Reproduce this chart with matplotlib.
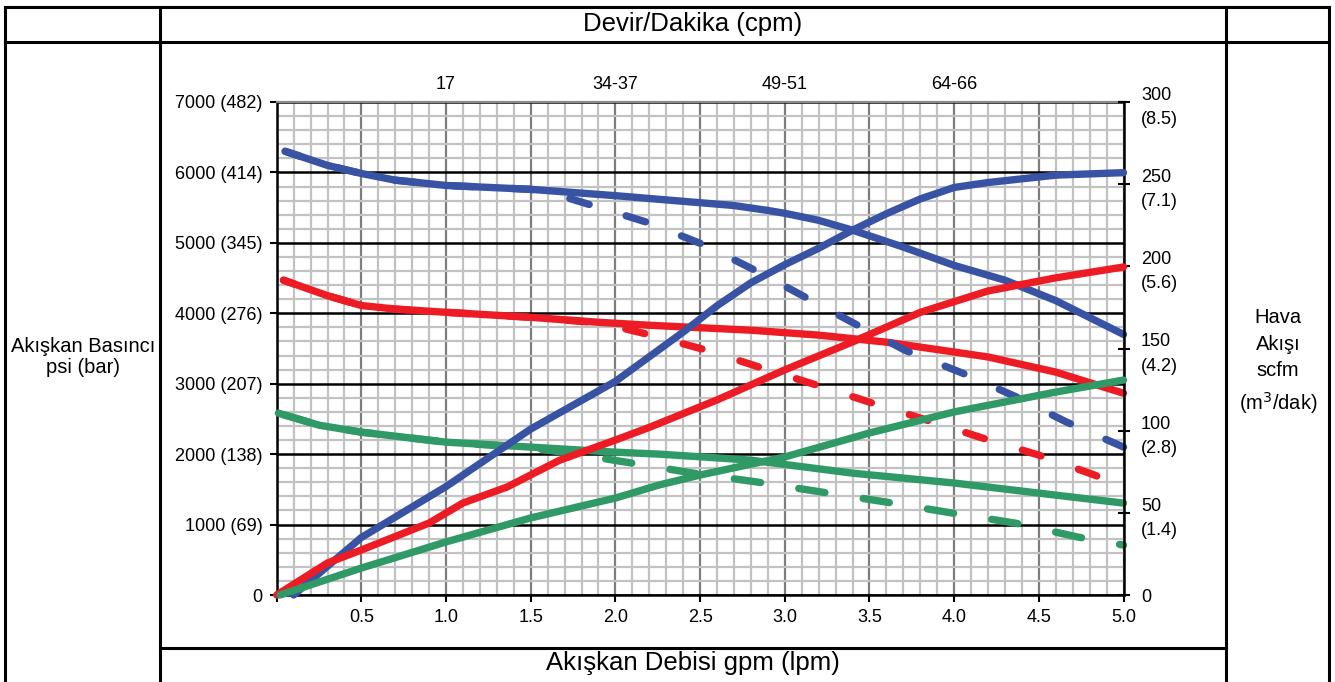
import matplotlib
matplotlib.use("Agg")
import matplotlib.pyplot as plt
from matplotlib.lines import Line2D
import numpy as np

plt.rcParams['font.family'] = ['Liberation Sans', 'DejaVu Sans']

W, H = 1335, 682

# ---------------- data ----------------
x_ticks = [0, 0.5, 1.0, 1.5, 2.0, 2.5, 3.0, 3.5, 4.0, 4.5, 5.0]
x_tick_labels = ['', '0.5', '1.0', '1.5', '2.0', '2.5', '3.0', '3.5', '4.0', '4.5', '5.0']
psi_ticks = [0, 1000, 2000, 3000, 4000, 5000, 6000, 7000]
psi_labels = ['0', '1000 (69)', '2000 (138)', '3000 (207)', '4000 (276)',
              '5000 (345)', '6000 (414)', '7000 (482)']
scfm_ticks = [0, 50, 100, 150, 200, 250, 300]
scfm_labels = ['0', '50\n(1.4)', '100\n(2.8)', '150\n(4.2)', '200\n(5.6)',
               '250\n(7.1)', '300\n(8.5)']
cpm_pos = [1.0, 2.0, 3.0, 4.0]
cpm_labels = ['17', '34-37', '49-51', '64-66']

# blue
blue_p_x = [0.05, 0.3, 0.5, 0.7, 1.0, 1.5, 2.0, 2.2, 2.5, 2.7, 2.9, 3.0, 3.2, 3.4, 3.7, 4.0, 4.3, 4.6, 5.0]
blue_p = [6300, 6100, 5985, 5890, 5815, 5760, 5670, 5630, 5570, 5530, 5460, 5420, 5320, 5180, 4940, 4680, 4470, 4180, 3700]
blue_pd_x = [0.05, 0.3, 0.5, 0.7, 1.0, 1.5, 1.71, 2.19, 2.53, 2.85, 3.12, 3.43, 3.71, 4.05, 4.36, 4.66, 5.0]
blue_pd = [6300, 6100, 5985, 5890, 5815, 5760, 5645, 5290, 4965, 4580, 4230, 3830, 3475, 3150, 2820, 2460, 2100]
blue_a_x = [0.1, 0.5, 1.0, 1.5, 2.0, 2.2, 2.4, 2.6, 2.8, 3.0, 3.2, 3.4, 3.6, 3.8, 4.0, 4.2, 4.6, 5.0]
blue_a = [0, 35, 66, 101, 130, 145, 160, 176, 190, 201, 211, 222, 232, 241, 248, 251, 255.5, 257]

# red
red_p_x = [0.04, 0.3, 0.5, 0.7, 1.0, 1.5, 1.9, 2.2, 2.8, 3.2, 3.6, 4.0, 4.2, 4.6, 5.0]
red_p = [4470, 4250, 4110, 4060, 4014, 3943, 3872, 3830, 3760, 3690, 3590, 3450, 3380, 3165, 2865]
red_pd_x = [0.04, 0.3, 0.5, 0.7, 1.0, 1.5, 1.85, 2.04, 2.19, 2.54, 2.87, 3.19, 3.52, 3.84, 4.17, 4.5, 4.83, 5.0]
red_pd = [4470, 4250, 4110, 4060, 4014, 3943, 3875, 3790, 3702, 3475, 3220, 2979, 2723, 2482, 2227, 1986, 1702, 1532]
red_a_x = [0.0, 0.3, 0.5, 0.9, 1.1, 1.36, 1.67, 2.0, 2.2, 2.6, 3.0, 3.4, 3.8, 4.2, 4.6, 5.0]
red_a = [0, 19.5, 27.4, 43.8, 56, 65.7, 82, 94.3, 102, 118.7, 137, 154, 172, 185, 193, 199.6]

# green
green_p_x = [0.01, 0.25, 0.5, 1.0, 1.5, 2.0, 2.26, 2.8, 3.4, 4.0, 4.6, 5.0]
green_p = [2582, 2411, 2312, 2170, 2100, 2028, 2000, 1915, 1730, 1590, 1418, 1305]
green_pd_x = [0.01, 0.25, 0.5, 1.0, 1.5, 1.73, 2.1, 2.46, 2.84, 3.22, 3.6, 3.99, 4.36, 4.73, 5.0]
green_pd = [2582, 2411, 2312, 2170, 2090, 2014, 1872, 1730, 1603, 1461, 1319, 1163, 1021, 823, 709]
green_a_x = [0.02, 0.5, 1.0, 1.5, 2.0, 2.26, 2.5, 3.0, 3.5, 4.0, 4.6, 5.0]
green_a = [0, 16.4, 32.3, 46.9, 59, 67, 73, 84, 98.6, 111.4, 123.5, 130.8]

BLUE = '#3953A4'
RED = '#ED1C24'
GREEN = '#2F9A66'

# ---------------- figure ----------------
fig = plt.figure(figsize=(W / 100, H / 100), dpi=100)
fig.patch.set_facecolor('white')


def fx(px):
    return px / W


def fy(py):
    return 1 - py / H


def hline(x0, x1, y, lw=2.2):
    fig.add_artist(Line2D([fx(x0), fx(x1)], [fy(y), fy(y)], color='black', lw=lw,
                          transform=fig.transFigure, solid_capstyle='projecting'))


def vline(x, y0, y1, lw=2.2):
    fig.add_artist(Line2D([fx(x), fx(x)], [fy(y0), fy(y1)], color='black', lw=lw,
                          transform=fig.transFigure, solid_capstyle='projecting'))


# table frame
hline(5, 1329, 7)
hline(5, 1329, 42)
hline(160, 1226, 648)
vline(5, 7, 682)
vline(160, 7, 682)
vline(1226, 7, 682)
vline(1329, 7, 682)

fig.text(fx(693), fy(24), 'Devir/Dakika (cpm)', ha='center', va='center', fontsize=18.5)
fig.text(fx(693), fy(663), 'Akışkan Debisi gpm (lpm)', ha='center', va='center', fontsize=18.5)
fig.text(fx(83), fy(357), 'Akışkan Basıncı\npsi (bar)', ha='center', va='center',
         fontsize=14.5, linespacing=1.1)
fig.text(fx(1278), fy(362), 'Hava\nAkışı\nscfm\n(m$^3$/dak)', ha='center', va='center',
         fontsize=14.5, linespacing=1.5)

# axes
x0p, x1p, y0p, y1p = 276.7, 1123.5, 595, 102
ax = fig.add_axes([fx(x0p), fy(y0p), (x1p - x0p) / W, (y0p - y1p) / H])
ax.set_xlim(0, 5)
ax.set_ylim(0, 7000)
ax.set_facecolor('white')

ax.set_xticks(x_ticks)
ax.set_xticklabels(x_tick_labels, fontsize=13)
ax.set_xticks(np.arange(0, 5.001, 0.1), minor=True)
ax.set_yticks(psi_ticks)
ax.set_yticklabels(psi_labels, fontsize=13)
ax.set_yticks(np.arange(0, 7001, 200), minor=True)
ax.tick_params(which='minor', length=0)
ax.tick_params(which='major', axis='x', direction='out', length=5, width=1.5, pad=5)
ax.tick_params(which='major', axis='y', direction='out', length=5, width=1.5, pad=5)

ax.grid(which='minor', axis='both', color='#c2c2c2', lw=1.6, zorder=0)
ax.grid(which='major', axis='x', color='#7d7d7d', lw=1.6, zorder=0)
ax.grid(which='major', axis='y', color='black', lw=1.8, zorder=0)
ax.set_axisbelow(True)

for s in ['left', 'bottom']:
    ax.spines[s].set_color('black')
    ax.spines[s].set_linewidth(1.8)
ax.spines['top'].set_color('#8a8a8a')
ax.spines['top'].set_linewidth(1.6)
ax.spines['right'].set_visible(False)

for i, lab in enumerate(cpm_labels):
    ax.text(cpm_pos[i], 1.035, lab, transform=ax.get_xaxis_transform(),
            ha='center', va='center', fontsize=13)

LW = 5.3
LWPX = LW * 100 / 72


def dash_offset(axis, xs, ys, x_start, on, off):
    """Offset (in lw units) so that a visible dash begins at x_start."""
    pts = axis.transData.transform(np.column_stack([xs, ys]))
    seg = np.hypot(np.diff(pts[:, 0]), np.diff(pts[:, 1]))
    cum = np.concatenate([[0], np.cumsum(seg)])
    s0 = np.interp(x_start, xs, cum) + LWPX / 2
    s0_lw = s0 * 72 / 100 / LW
    per = on + off
    return (-s0_lw) % per


kw = dict(lw=LW, solid_capstyle='round', dash_capstyle='round', zorder=3, clip_on=False)
ax.plot(blue_p_x, blue_p, color=BLUE, **kw)
ax.plot(red_p_x, red_p, color=RED, **kw)
ax.plot(green_p_x, green_p, color=GREEN, **kw)

bon, boff = 2.75, 5.25
ax.plot(blue_pd_x, blue_pd, color=BLUE,
        ls=(dash_offset(ax, blue_pd_x, blue_pd, 1.71, bon, boff), (bon, boff)), **kw)
ron, roff = 2.65, 5.4
ax.plot(red_pd_x, red_pd, color=RED,
        ls=(dash_offset(ax, red_pd_x, red_pd, 2.04, ron, roff), (ron, roff)), **kw)
gon, goff = 3.6, 5.25
ax.plot(green_pd_x, green_pd, color=GREEN,
        ls=(dash_offset(ax, green_pd_x, green_pd, 1.54, gon, goff), (gon, goff)), **kw)

ax2 = ax.twinx()
ax2.set_ylim(0, 300)
ax2.set_yticks(scfm_ticks)
ax2.set_yticklabels(scfm_labels, fontsize=13, ha='left', linespacing=1.55)
ax2.tick_params(axis='y', direction='inout', length=9, width=1.5, pad=8)
for s in ['left', 'top', 'bottom']:
    ax2.spines[s].set_visible(False)
ax2.spines['right'].set_color('black')
ax2.spines['right'].set_linewidth(1.8)

ax2.plot(blue_a_x, blue_a, color=BLUE, **kw)
ax2.plot(red_a_x, red_a, color=RED, **kw)
ax2.plot(green_a_x, green_a, color=GREEN, **kw)

fig.savefig('out.png', dpi=100, facecolor='white')
